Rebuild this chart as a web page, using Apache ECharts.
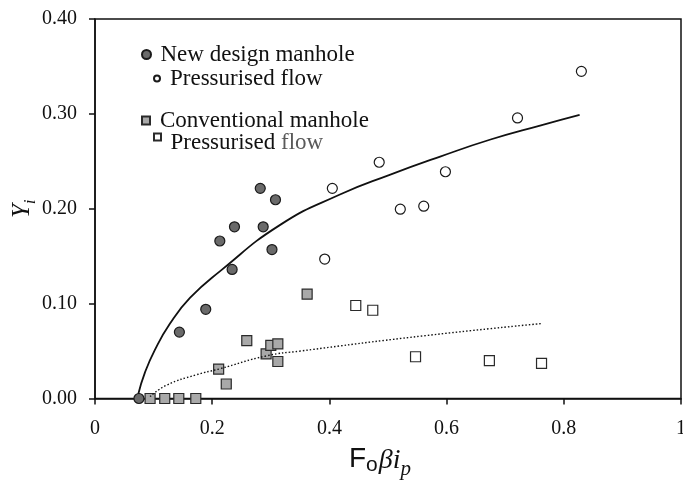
<!DOCTYPE html>
<html>
<head>
<meta charset="utf-8">
<script src="https://cdn.jsdelivr.net/npm/echarts@6/dist/echarts.min.js"></script>
<style>
  html, body { margin: 0; background: #fff; }
  #chart { width: 683px; height: 484px; }
</style>
</head>
<body>
<div id="chart"></div>
<script>
  // values
  const newDesignX = [0.075, 0.144, 0.189, 0.213, 0.234, 0.238, 0.282, 0.287, 0.302, 0.308];
  const newDesignY = [0.000, 0.070, 0.094, 0.166, 0.136, 0.181, 0.2215, 0.181, 0.157, 0.2095];

  const newPressX = [0.392, 0.405, 0.485, 0.521, 0.561, 0.598, 0.721, 0.830];
  const newPressY = [0.147, 0.2215, 0.249, 0.1995, 0.2027, 0.239, 0.2957, 0.3448];

  const convX = [0.094, 0.119, 0.143, 0.172, 0.211, 0.224, 0.259, 0.292, 0.300, 0.312, 0.312, 0.362];
  const convY = [0.000, 0.000, 0.000, 0.000, 0.031, 0.0153, 0.061, 0.047, 0.056, 0.0575, 0.039, 0.110];

  const convPressX = [0.445, 0.474, 0.547, 0.673, 0.762];
  const convPressY = [0.098, 0.093, 0.044, 0.040, 0.037];

  // fitted curves, read at a few points along each
  const fitNewX = [0.074, 0.085, 0.102, 0.128, 0.162, 0.213, 0.316, 0.418, 0.504, 0.589, 0.675, 0.761, 0.827];
  const fitNewY = [0.005, 0.027, 0.051, 0.079, 0.106, 0.134, 0.183, 0.215, 0.236, 0.255, 0.273, 0.288, 0.299];

  const fitConvX = [0.094, 0.122, 0.173, 0.211, 0.293, 0.350, 0.560, 0.762];
  const fitConvY = [0.002, 0.014, 0.025, 0.031, 0.045, 0.050, 0.066, 0.079];

  const zip = (xs, ys) => xs.map((x, i) => [x, ys[i]]);

  const serif = "'Liberation Serif', 'Times New Roman', serif";
  const sans = "'Liberation Sans', Arial, sans-serif";
  const squareIcon = "path://M0,0L10,0L10,10L0,10Z";

  let chart = echarts.init(document.getElementById("chart"));

  let option = {
    backgroundColor: "#fff",
    animation: false,
    grid: {
      left: 95,
      right: 2,
      top: 19,
      bottom: 85.5,
      outerBoundsMode: "none",
      containLabel: false,
      show: true,
      borderColor: "#111",
      borderWidth: 1.5
    },
    legend: [
      {
        data: ["New design manhole"],
        left: 141, top: 43,
        padding: 0,
        icon: "circle",
        itemWidth: 18, itemHeight: 9,
        textStyle: { fontFamily: serif, fontSize: 23, color: "#111" }
      },
      {
        data: ["Pressurised flow (new design)"],
        left: 153, top: 67,
        padding: 0,
        icon: "circle",
        itemWidth: 16, itemHeight: 6,
        formatter: () => "Pressurised flow",
        textStyle: { fontFamily: serif, fontSize: 23, color: "#111", padding: [12, 0, 0, 0] }
      },
      {
        data: ["Conventional manhole"],
        left: 141, top: 109,
        padding: 0,
        icon: squareIcon,
        itemWidth: 18, itemHeight: 8,
        textStyle: { fontFamily: serif, fontSize: 23, color: "#111" }
      },
      {
        data: ["Pressurised flow (conventional)"],
        left: 153, top: 131,
        padding: 0,
        icon: squareIcon,
        itemWidth: 16, itemHeight: 7,
        formatter: () => "Pressurised {g|flow}",
        textStyle: {
          fontFamily: serif, fontSize: 23, color: "#111", padding: [11, 0, 0, 0],
          rich: { g: { fontFamily: serif, fontSize: 23, color: "#5a5a5a" } }
        }
      }
    ],
    xAxis: {
      type: "value",
      min: 0,
      max: 1,
      interval: 0.2,
      name: "{f|F}{o|o}{b|β}{i|i}{p|p}",
      nameLocation: "middle",
      nameGap: 47,
      nameTextStyle: {
        padding: [0, 16, 0, 0],
        rich: {
          f: { fontFamily: sans, fontSize: 28, color: "#111", verticalAlign: "top", padding: [0, 0, 0, 0] },
          o: { fontFamily: sans, fontSize: 21, color: "#111", verticalAlign: "top", padding: [9, 1, 0, 0] },
          b: { fontFamily: serif, fontStyle: "italic", fontSize: 28, color: "#111", verticalAlign: "top", padding: [1, 0, 0, 0] },
          i: { fontFamily: serif, fontStyle: "italic", fontSize: 28, color: "#111", verticalAlign: "top", padding: [1, 0, 0, 0] },
          p: { fontFamily: serif, fontStyle: "italic", fontSize: 21, color: "#111", verticalAlign: "top", padding: [13, 0, 0, 0] }
        }
      },
      axisLine: { onZero: false, lineStyle: { color: "#111", width: 1.5 } },
      axisTick: { show: true, inside: false, length: 6, lineStyle: { color: "#111", width: 1.5 } },
      axisLabel: {
        margin: 20,
        fontFamily: serif,
        fontSize: 20,
        color: "#111",
        formatter: v => (v === 0 || v === 1) ? String(v) : v.toFixed(1)
      },
      splitLine: { show: false }
    },
    yAxis: {
      type: "value",
      min: 0,
      max: 0.4,
      interval: 0.1,
      name: "{y|Y}{s|i}",
      nameLocation: "middle",
      nameGap: 56,
      nameMoveOverlap: false,
      nameTextStyle: {
        rich: {
          y: { fontFamily: serif, fontStyle: "italic", fontSize: 25, color: "#111", verticalAlign: "top" },
          s: { fontFamily: serif, fontStyle: "italic", fontSize: 17, color: "#111", verticalAlign: "top", padding: [12, 0, 0, 0] }
        }
      },
      axisLine: { onZero: false, lineStyle: { color: "#111", width: 1.5 } },
      axisTick: { show: true, inside: false, length: 6, lineStyle: { color: "#111", width: 1.5 } },
      axisLabel: {
        margin: 18,
        fontFamily: serif,
        fontSize: 20,
        color: "#111",
        formatter: v => v.toFixed(2)
      },
      splitLine: { show: false }
    },
    series: [
      {
        name: "New design manhole",
        type: "scatter",
        symbol: "circle",
        symbolSize: 10,
        itemStyle: { color: "#6a6a6a", borderColor: "#1a1a1a", borderWidth: 1.2, opacity: 1 },
        data: zip(newDesignX, newDesignY)
      },
      {
        name: "Pressurised flow (new design)",
        type: "scatter",
        symbol: "circle",
        symbolSize: 10,
        itemStyle: { color: "#fff", borderColor: "#1a1a1a", borderWidth: 1.2, opacity: 1 },
        data: zip(newPressX, newPressY)
      },
      {
        name: "Conventional manhole",
        type: "scatter",
        symbol: "rect",
        symbolSize: 10,
        itemStyle: { color: "#a9a9a9", borderColor: "#2a2a2a", borderWidth: 1.2, opacity: 1 },
        data: zip(convX, convY)
      },
      {
        name: "Pressurised flow (conventional)",
        type: "scatter",
        symbol: "rect",
        symbolSize: 10,
        itemStyle: { color: "#fff", borderColor: "#2a2a2a", borderWidth: 1.2, opacity: 1 },
        data: zip(convPressX, convPressY)
      },
      {
        name: "fit new design",
        type: "line",
        smooth: 0.5,
        showSymbol: false,
        lineStyle: { color: "#111", width: 1.8 },
        data: zip(fitNewX, fitNewY),
        z: 5
      },
      {
        name: "fit conventional",
        type: "line",
        smooth: 0.5,
        showSymbol: false,
        lineStyle: { color: "#111", width: 1.4, type: [1.5, 2] },
        data: zip(fitConvX, fitConvY),
        z: 5
      }
    ]
  };

  chart.setOption(option);

  window.addEventListener("resize", () => {
    chart.resize();
  });
</script>
</body>
</html>
